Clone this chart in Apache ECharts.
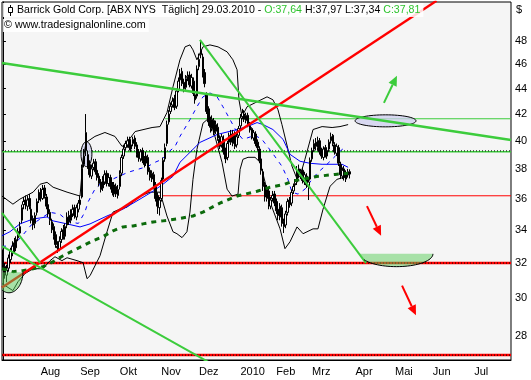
<!DOCTYPE html>
<html><head><meta charset="utf-8">
<script src="https://cdn.jsdelivr.net/npm/echarts@6/dist/echarts.min.js"></script>
<style>html,body{margin:0;padding:0;background:#fff}#c{width:531px;height:380px}</style>
</head><body><div id="c"></div>
<script>
// ---------- axis / category data ----------
const categoryCount = 270; // trading days 06.07.2009 .. end of July 2010
const monthLabels = ['Aug','Sep','Okt','Nov','Dez','2010','Feb','Mrz','Apr','Mai','Jun','Jul'];
const monthStartIdx = [20,41,62,84,104,126,145,164,187,208,228,250];
const yTickValues = [28,30,32,34,36,38,40,42,44,46,48];
const yMinPrice = 26.81, yMaxPrice = 51.53;

// ---------- OHLC (daily, 06.07.2009 .. 29.03.2010) ----------
const open = [32.4,31.8,31.3,31.7,32.2,32.6,33.2,32.9,33.5,33.8,34.6,35.6,35.9,35.5,36.0,35.3,34.7,34.4,35.1,35.9,
36.4,36.0,36.7,36.1,35.6,35.1,34.5,34.2,33.7,33.0,32.8,33.4,34.0,33.6,34.3,34.9,34.6,35.0,35.4,34.8,
35.3,35.6,36.1,38.3,40.6,39.0,38.3,37.5,38.1,38.5,37.9,37.5,37.1,36.7,37.1,37.7,37.0,37.4,36.9,36.3,
36.8,36.2,36.8,37.7,38.9,39.5,39.7,40.1,39.4,39.8,40.2,39.7,39.1,38.7,39.3,38.7,38.4,38.8,37.9,37.3,
37.6,36.9,36.2,35.4,36.0,37.3,38.7,39.8,41.4,42.2,42.7,43.2,42.6,43.9,44.7,45.4,44.5,44.1,44.9,45.1,
44.2,44.6,43.5,43.4,45.8,46.8,46.6,45.3,43.5,42.4,41.5,40.9,41.5,40.7,41.0,40.1,39.7,40.1,39.3,38.8,
39.9,40.5,39.8,40.4,39.7,40.4,41.1,41.8,42.0,41.5,41.9,41.1,40.9,40.2,40.5,39.9,39.4,38.7,37.8,36.9,
36.0,36.5,35.5,36.0,36.3,35.8,35.3,34.8,35.4,34.5,34.3,35.1,35.9,35.7,36.5,36.9,37.1,38.0,37.5,37.9,
37.1,37.5,36.8,37.3,38.7,39.4,39.9,39.5,40.0,39.3,38.8,39.5,38.9,39.4,40.0,40.4,39.7,39.1,39.5,38.3,
37.5,38.0,37.3,37.8,37.64];
const high = [32.8,32.0,31.9,32.5,32.9,33.3,33.5,33.6,34.1,34.5,35.6,36.1,36.2,36.2,36.3,35.5,34.9,35.1,36.0,36.6,
36.7,36.9,36.9,36.3,35.8,35.3,34.7,34.4,33.9,33.3,33.6,34.1,34.3,34.4,35.1,35.2,35.3,35.6,35.6,35.6,
35.9,36.2,38.3,39.4,42.0,39.3,38.6,38.3,38.7,38.7,38.1,37.7,37.3,37.5,37.9,37.9,37.7,37.6,37.1,37.1,
37.0,36.9,37.9,39.0,39.7,40.0,40.3,40.3,39.9,40.3,40.4,39.9,39.4,39.4,39.5,38.9,39.2,39.0,38.1,37.9,
37.8,37.1,36.4,36.1,37.4,38.8,39.8,41.5,42.3,42.9,43.3,43.5,44.0,44.9,45.6,45.7,44.8,45.1,45.4,45.4,
45.2,44.9,43.8,45.9,46.9,48.0,46.9,45.6,43.7,42.6,41.8,41.9,41.7,41.5,41.3,40.4,40.5,40.4,39.5,40.0,
40.6,40.8,40.8,40.7,40.5,41.1,42.0,42.4,42.3,42.1,42.1,41.4,41.0,40.8,40.7,40.1,39.6,38.9,38.0,37.1,
36.9,36.7,36.1,36.5,36.5,36.0,35.5,35.7,35.6,34.7,35.2,36.0,36.1,36.6,37.0,37.3,38.2,38.3,38.0,38.1,
37.8,37.7,37.3,38.8,39.5,40.1,40.2,40.3,40.2,39.5,39.6,39.7,39.5,40.1,40.6,40.5,39.9,39.8,39.7,38.5,
38.1,38.2,37.9,38.0,37.97];
const low = [31.6,31.1,30.9,31.5,32.0,32.4,32.6,32.7,33.3,33.6,34.4,35.3,35.3,35.2,35.3,34.4,34.0,34.1,34.9,35.7,
35.8,35.9,36.0,35.3,34.8,34.3,33.8,33.4,32.9,32.6,32.7,33.2,33.4,33.4,34.1,34.3,34.4,34.8,34.7,34.6,
35.1,35.5,36.0,38.1,38.9,38.0,37.4,37.3,37.9,37.6,37.2,36.8,36.4,36.5,36.9,36.8,36.8,36.6,36.2,36.1,
36.1,36.0,36.6,37.5,38.7,39.3,39.5,39.3,39.2,39.6,39.4,38.8,38.5,38.5,38.4,38.1,38.2,37.6,37.2,37.1,
36.6,35.8,35.0,34.9,35.8,37.1,38.5,39.6,41.2,42.0,42.5,42.3,42.4,43.7,44.5,44.2,43.7,43.9,44.6,44.1,
44.0,43.4,42.8,43.2,45.5,46.5,44.9,44.1,42.0,41.1,40.6,40.7,40.4,40.5,40.0,39.4,39.5,39.0,38.4,38.6,
39.7,39.7,39.6,39.4,39.5,40.2,40.9,41.6,41.4,41.3,41.0,40.6,40.1,40.0,39.6,39.3,38.4,37.6,36.5,35.8,
35.8,35.3,35.3,35.8,35.5,35.0,34.6,34.6,34.2,33.8,34.1,34.9,35.4,35.5,36.3,36.7,36.9,37.4,37.3,37.0,
36.9,36.7,35.9,37.2,38.5,39.2,39.3,39.3,39.0,38.7,38.6,38.8,38.7,39.2,39.8,39.6,39.0,38.9,38.2,37.3,
37.3,37.2,37.1,37.4,37.34];
const close = [31.9,31.4,31.6,32.3,32.7,33.0,32.8,33.4,33.9,34.2,35.4,35.8,35.6,35.9,35.5,34.6,34.3,34.9,35.8,36.3,
36.1,36.6,36.2,35.5,35.0,34.6,34.0,33.6,33.1,32.9,33.3,33.9,33.6,34.2,34.8,34.5,35.0,35.3,34.9,35.4,
35.7,35.9,38.0,38.9,39.3,38.2,37.6,38.0,38.4,37.8,37.4,37.0,36.6,37.2,37.6,37.0,37.4,36.8,36.4,36.9,
36.3,36.6,37.6,38.8,39.4,39.8,40.0,39.5,39.7,40.1,39.6,39.0,38.8,39.2,38.6,38.3,38.9,37.8,37.4,37.7,
36.8,36.0,35.5,35.9,37.2,38.6,39.5,41.2,42.0,42.6,43.0,42.5,43.8,44.6,45.2,44.4,44.0,44.8,45.0,44.3,
44.9,43.6,43.1,45.6,46.4,47.2,45.1,44.4,42.2,41.4,41.0,41.6,40.6,41.2,40.2,39.6,40.3,39.2,38.7,39.8,
40.4,39.9,40.5,39.6,40.3,40.9,41.7,42.1,41.6,41.9,41.2,40.8,40.3,40.6,39.8,39.5,38.6,37.9,36.8,36.1,
36.6,35.6,35.9,36.2,35.7,35.2,34.9,35.5,34.4,34.2,35.0,35.8,35.6,36.4,36.8,37.0,37.9,37.6,37.8,37.2,
37.6,36.9,37.1,38.6,39.3,39.8,39.6,40.0,39.2,38.9,39.4,39.0,39.3,39.9,40.3,39.8,39.2,39.6,38.4,37.6,
37.9,37.4,37.7,37.6,37.81];

// ---------- indicators as [day index, price] ----------
const bbUpper = [[-0.5,36.16],[5.3,35.63],[9.0,35.96],[16.0,36.42],[19.7,36.95],[23.4,37.08],[26.6,36.75],[34.0,36.42],
[40.9,36.16],[42.5,38.67],[44.1,39.88],[48.8,40.32],[54.1,40.61],[59.4,40.32],[63.2,39.59],[65.8,39.88],[70.1,40.68],
[79.1,40.98],[83.3,41.05],[87.0,42.11],[90.2,44.14],[93.9,46.37],[96.6,47.48],[99.2,47.65],[100.8,47.22],[102.9,46.37],
[106.1,47.48],[109.8,47.65],[114.1,47.48],[118.9,47.05],[122.0,46.37],[124.2,45.53],[125.2,43.11],[126.8,41.81],
[129.5,42.56],[134.8,42.95],[140.1,43.34],[143.2,43.11],[145.9,42.33],[148.0,41.20],[151.2,39.38],[153.3,38.2],
[156.0,37.3],[157.6,37.5],[160.2,38.67],[164.5,40.83],[169.3,41.05],[174.6,40.98],[178.8,41.05],[183.1,41.20]];
const bbLower = [[-0.5,30.82],[5.3,30.43],[8.0,30.93],[11.7,31.39],[16.0,31.67],[21.3,31.67],[25.0,32.14],[27.6,32.37],
[31.3,32.14],[34.0,32.31],[39.3,32.14],[42.5,32.02],[44.6,31.10],[46.2,31.27],[51.5,32.43],[55.2,33.88],[58.4,35.12],
[62.1,35.31],[65.8,35.44],[72.7,36.16],[78.0,36.42],[83.3,36.42],[87.0,34.87],[90.2,33.88],[92.3,33.76],[95.0,33.52],
[97.6,33.88],[99.2,35.12],[100.8,37.28],[102.9,39.38],[106.1,41.3],[108.5,41.6],[110.5,41.2],[112.5,40.3],[115.1,39.0],
[116.2,38.46],[118.9,36.62],[121.5,36.16],[124.7,36.29],[125.8,37.97],[127.3,38.67],[130.0,38.81],[133.7,38.81],
[136.4,38.46],[141.7,35.76],[147.0,34.06],[149.6,32.85],[152.3,33.27],[156.0,34.18],[159.2,33.76],[164.5,34.06],
[167.1,34.06],[169.8,35.31],[173.5,36.81],[177.2,37.28],[182.5,37.49],[184.0,37.70]];
const maSlow = [[-0.5,33.64],[3.7,33.88],[9.0,34.37],[16.0,34.68],[23.4,34.81],[26.6,34.56],[34.0,34.37],[40.9,34.18],
[46.2,34.37],[55.2,34.87],[63.7,35.31],[72.7,35.96],[79.6,36.48],[84.9,36.95],[90.2,37.49],[93.9,38.46],[104.5,39.88],
[113.6,40.46],[124.2,40.83],[129.5,41.05],[134.8,41.35],[138.0,41.20],[143.2,40.83],[148.6,40.10],[152.3,39.02],
[157.6,38.53],[162.9,38.39],[169.3,38.32],[179.9,38.32],[183.1,38.11]];
const maFast = [[-0.5,33.0],[5.0,33.0],[10.0,33.6],[15.0,34.3],[20.0,34.7],[25.0,35.1],[30.0,35.0],[35.0,34.5],[40.0,34.4],
[43.5,35.12],[45.1,35.76],[48.8,36.62],[52.6,37.08],[57.9,37.28],[66.3,37.76],[71.6,37.97],[77.0,38.18],[80.7,38.46],
[84.4,38.67],[87.6,39.16],[91.3,39.59],[93.9,40.32],[99.2,41.57],[102.9,42.56],[106.1,43.34],[109.8,43.65],[113.6,43.34],
[116.7,42.56],[120.5,41.57],[124.2,40.61],[127.3,40.10],[133.7,40.40],[137.4,40.10],[142.7,39.16],[148.0,38.18],
[151.2,37.28],[153.3,36.42],[156.5,36.29],[160.2,36.62],[163.9,37.28],[167.1,37.76],[170.8,38.18],[176.2,38.88],
[179.9,39.38],[182.5,39.52]];
const maLong = [[-0.5,31.67],[5.3,31.50],[10.6,31.56],[16.0,31.67],[21.3,31.79],[26.6,32.08],[31.9,32.43],[37.2,32.73],
[42.5,33.03],[47.8,33.33],[53.1,33.58],[58.4,33.94],[63.7,34.18],[69.0,34.24],[74.3,34.37],[79.6,34.49],[84.9,34.56],
[92.3,34.68],[100.8,34.87],[106.1,35.12],[115.1,35.70],[124.2,36.16],[134.8,36.48],[141.7,36.75],[149.6,36.95],
[153.3,37.15],[158.6,37.28],[167.1,37.49],[176.2,37.62],[183.1,37.69]];

// ---------- drawn studies: trend lines, levels, marks ----------
const trendRed = [[-0.5,30.6],[230,51.64]];
const trendGreenLong = [[-0.5,46.11],[269.5,40.05]];
const trendGreenPeak = [[104.5,48.09],[192.6,32.0]];
const trendGreenLow = [[-0.5,33.0],[110,26.66]];
const trendGreenSteep = [[-0.5,35.07],[19.7,32.03]];
const levelGreen = [{from:-0.5, price:39.2}];
const levelGreenThin = [{from:86, price:41.64}];
const levelRedThin = [{from:83, price:36.18}];
const levelRedThick = [{from:-0.5, price:32.0},{from:-0.5, price:27.05}];
const ellipses = [[41.4,47.2,39.93,38.16],[186.8,219.1,41.94,41.03]]; // idxLeft, idxRight, priceTop, priceBottom
const bowls = [[-4.2,10.6,31.47,30.31],[189.4,228.1,32.54,31.79]];
const arrows = [[202.1,42.87,209.0,45.04,'g'],[193.1,35.5,200.6,33.63,'r'],[211.7,30.71,219.1,29.09,'r']];

// ---------- build ----------
const FONT = 'Liberation Sans';
const L = Math.log;
const lnPts = a => a.map(p => [p[0], L(p[1])]);
const cats = Array.from({length: categoryCount}, (_, i) => String(i));
const candleData = open.map((o, i) => [L(o), L(close[i]), L(low[i]), L(high[i])]);
const GREEN = '#3ccc3c', RED = '#ff0000';

function lineSeries(pts, color, width, type, z) {
  return {type:'line', xAxisIndex:1, yAxisIndex:0, data: lnPts(pts), symbol:'none', silent:true,
    animation:false, z: z || 2, lineStyle:{color, width, type: type || 'solid'}};
}
function levelSeries(levels, color, width, type, z, dy) {
  return levels.map(l => lineSeries([[l.from, l.price*(dy||1)],[269.5, l.price*(dy||1)]], color, width, type, z));
}

const series = [];
series.push(...levelSeries(levelGreen, GREEN, 1.5, 'solid', 2));
series.push(...levelSeries(levelGreen, '#000', 1, [1,2], 2, 1.0018));
series.push(...levelSeries(levelGreenThin, GREEN, 1, 'solid', 2));
series.push(...levelSeries(levelRedThin, RED, 1, 'solid', 2));
series.push(...levelSeries(levelRedThick, RED, 2.5, 'solid', 2));
series.push(...levelSeries(levelRedThick, '#000', 1, [1,2], 2));
series.push(lineSeries(bbUpper, '#000', 1, 'solid', 3));
series.push(lineSeries(bbLower, '#000', 1, 'solid', 3));
series.push(lineSeries(maSlow, '#0000ff', 1, 'solid', 3));
series.push(lineSeries(maFast, '#0000ff', 1, [4,5], 3));
series.push({type:'custom', xAxisIndex:1, yAxisIndex:0, silent:true, z:3, clip:true,
  data: ellipses.map(e => [e[0], e[1], L(e[2]), L(e[3])]),
  encode:{x:[0,1], y:[2,3]},
  renderItem:(params, api) => {
    const a = api.coord([api.value(0), api.value(2)]);
    const b = api.coord([api.value(1), api.value(3)]);
    return {type:'ellipse', shape:{cx:(a[0]+b[0])/2, cy:(a[1]+b[1])/2, rx:Math.abs(b[0]-a[0])/2, ry:Math.abs(b[1]-a[1])/2},
      style:{fill:'rgba(205,205,238,0.75)', stroke:'#000', lineWidth:1}};
  }});
series.push({type:'candlestick', xAxisIndex:0, yAxisIndex:0, data: candleData, barWidth: 2, silent:true, z:4,
  itemStyle:{color:'#ffffff', color0:'#000000', borderColor:'#000000', borderColor0:'#000000', borderWidth:1}});
series.push(lineSeries(maLong, '#0b6a0b', 3, [5,5], 5));
series.push(lineSeries(trendRed, RED, 2.5, 'solid', 6));
series.push(lineSeries(trendGreenLong, GREEN, 2.5, 'solid', 6));
series.push(lineSeries(trendGreenPeak, GREEN, 2, 'solid', 6));
series.push(lineSeries(trendGreenLow, GREEN, 2, 'solid', 6));
series.push(lineSeries(trendGreenSteep, GREEN, 2, 'solid', 6));
series.push({type:'custom', xAxisIndex:1, yAxisIndex:0, silent:true, z:7, clip:true,
  data: bowls.map(e => [e[0], e[1], L(e[2]), L(e[3])]),
  encode:{x:[0,1], y:[2,3]},
  renderItem:(params, api) => {
    const a = api.coord([api.value(0), api.value(2)]);
    const b = api.coord([api.value(1), api.value(3)]);
    const cx = (a[0]+b[0])/2, rx = (b[0]-a[0])/2, ry = b[1]-a[1], top = a[1];
    const arc = [];
    for (let k = 0; k <= 40; k++) {
      const t = Math.PI - Math.PI*k/40;
      arc.push([cx + rx*Math.cos(t), top + ry*Math.sin(t)]);
    }
    return {type:'group', children:[
      {type:'polygon', shape:{points:arc}, style:{fill:'rgba(90,205,90,0.5)', stroke:null}},
      {type:'polyline', shape:{points:arc.slice(6)}, style:{fill:null, stroke:'#000', lineWidth:1}}
    ]};
  }});
series.push({type:'custom', xAxisIndex:1, yAxisIndex:0, silent:true, z:8,
  data: arrows.map(e => [e[0], L(e[1]), e[2], L(e[3]), e[4]==='g'?1:0]),
  encode:{x:[0,2], y:[1,3]},
  renderItem:(params, api) => {
    const a = api.coord([api.value(0), api.value(1)]);
    const b = api.coord([api.value(2), api.value(3)]);
    const col = api.value(4) ? GREEN : RED;
    const dx = b[0]-a[0], dy = b[1]-a[1], len = Math.hypot(dx, dy);
    const ux = dx/len, uy = dy/len, hl = 10, hw = 4.5;
    const base = [b[0]-ux*hl, b[1]-uy*hl];
    return {type:'group', children:[
      {type:'line', shape:{x1:a[0], y1:a[1], x2:base[0], y2:base[1]}, style:{stroke:col, lineWidth:2}},
      {type:'polygon', shape:{points:[b, [base[0]-uy*hw, base[1]+ux*hw], [base[0]+uy*hw, base[1]-ux*hw]]}, style:{fill:col}}
    ]};
  }});

const chart = echarts.init(document.getElementById('c'), null, {renderer:'canvas'});
chart.setOption({
  animation:false,
  backgroundColor:'#ffffff',
  textStyle:{fontFamily:FONT},
  title:[
    {text:'{k|Barrick Gold Corp. [ABX NYS  Täglich] 29.03.2010 - }{g|O:37,64}{k| H:37,97 L:37,34 }{g|C:37,81}',
     left:3, top:3, padding:[2,3,1,14], backgroundColor:'rgba(255,255,255,0.85)', z:20,
     textStyle:{fontWeight:'normal', rich:{k:{fontSize:10.6, fontWeight:'normal', color:'#000', fontFamily:FONT},
       g:{fontSize:10.6, fontWeight:'normal', color:'#2fc42f', fontFamily:FONT}}}},
    {text:'© www.tradesignalonline.com', left:3, top:19, padding:[1,3,1,1], backgroundColor:'rgba(255,255,255,0.85)', z:20,
     textStyle:{fontSize:10.8, fontWeight:'normal', color:'#000', fontFamily:FONT}},
    {text:'$', left:516, top:4, padding:0, z:20,
     textStyle:{fontSize:11, fontWeight:'normal', color:'#000', fontFamily:FONT}}
  ],
  graphic:[
    {type:'line', z:100, shape:{x1:10.5, y1:5, x2:10.5, y2:16}, style:{stroke:'#000', lineWidth:1}},
    {type:'rect', z:101, shape:{x:8.5, y:7.5, width:4, height:5}, style:{fill:'#fff', stroke:'#000', lineWidth:1}}
  ],
  grid:{left:2, right:20, top:2, bottom:20, show:true, backgroundColor:'#f5f5f5', borderColor:'#000', borderWidth:1},
  xAxis:[
    {type:'category', data:cats, boundaryGap:true, position:'bottom',
     axisLine:{lineStyle:{color:'#000'}},
     axisTick:{interval:(i) => monthStartIdx.includes(i), length:4, lineStyle:{color:'#000'}},
     axisLabel:{interval:(i) => monthStartIdx.includes(i), formatter:(v, i) => monthLabels[monthStartIdx.indexOf(Number(v))] || '',
       align:'left', margin:6, fontSize:11, color:'#000', fontFamily:FONT},
     splitLine:{show:false}},
    {type:'value', min:-0.5, max:categoryCount-0.5, show:false}
  ],
  yAxis:[{type:'value', position:'right', min:L(yMinPrice), max:L(yMaxPrice),
    axisLine:{show:true, lineStyle:{color:'#000'}},
    axisTick:{show:true, length:3, customValues:yTickValues.map(L), lineStyle:{color:'#000'}},
    axisLabel:{customValues:yTickValues.map(L), formatter:v => String(Math.round(Math.exp(v))), margin:4,
      fontSize:11, color:'#000', fontFamily:FONT},
    splitLine:{show:false}}],
  series
});
</script></body></html>
